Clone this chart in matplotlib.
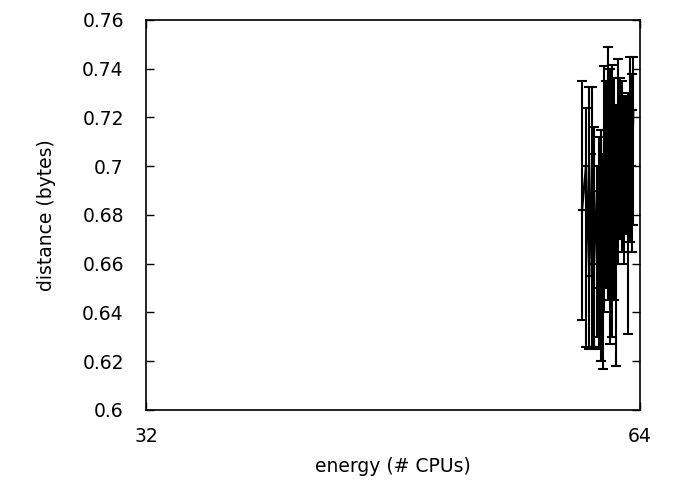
import matplotlib
matplotlib.use("Agg")
import matplotlib.pyplot as plt
import numpy as np

# energy (# CPUs), log2 axis
energy = [59.0, 59.33, 59.6, 59.84, 60.0, 60.25, 60.42, 60.6, 60.77, 60.86,
          61.03, 61.2, 61.37, 61.54, 61.71, 61.88, 62.05, 62.23, 62.4, 62.58,
          62.76, 62.94, 63.12, 63.3, 63.4]
distance = [0.682, 0.700, 0.655, 0.705, 0.660, 0.690, 0.650, 0.695, 0.655,
            0.715, 0.665, 0.710, 0.660, 0.715, 0.670, 0.712, 0.685, 0.720,
            0.690, 0.715, 0.695, 0.680, 0.710, 0.700, 0.723]
dist_low = [0.637, 0.626, 0.625, 0.626, 0.626, 0.630, 0.625, 0.620, 0.617,
            0.640, 0.650, 0.645, 0.627, 0.630, 0.645, 0.618, 0.660, 0.670,
            0.665, 0.660, 0.672, 0.631, 0.669, 0.665, 0.676]
dist_high = [0.735, 0.724, 0.7325, 0.7325, 0.716, 0.700, 0.712, 0.715, 0.705,
             0.741, 0.735, 0.749, 0.740, 0.7415, 0.736, 0.725, 0.744, 0.736,
             0.735, 0.729, 0.728, 0.730, 0.745, 0.738, 0.745]

d = np.array(distance)
yerr = [d - np.array(dist_low), np.array(dist_high) - d]

plt.rcParams['font.family'] = ['DejaVu Sans']
fig = plt.figure(figsize=(6.88, 4.90), dpi=100)
ax = fig.add_axes([146/688, 1-410/490, (640-146)/688, (410-20)/490])

ax.errorbar(energy, distance, yerr=yerr, color='black', lw=1.6, elinewidth=1.5,
            capsize=3.5, capthick=1.5, marker='+', ms=6, mew=1.5)

ax.set_xscale('log', base=2)
ax.set_xlim(32, 64)
ax.set_ylim(0.6, 0.76)
ax.set_xticks([32, 64])
ax.set_xticklabels(['32', '64'])
ax.xaxis.set_minor_locator(matplotlib.ticker.NullLocator())
yt = [0.6, 0.62, 0.64, 0.66, 0.68, 0.7, 0.72, 0.74, 0.76]
ax.set_yticks(yt)
ax.set_yticklabels(['0.6', '0.62', '0.64', '0.66', '0.68', '0.7', '0.72', '0.74', '0.76'])
ax.tick_params(direction='in', length=6, width=1, labelsize=13.5, pad=16,
               right=True, top=True, colors='black')
ax.tick_params(axis='x', pad=12)
for s in ax.spines.values():
    s.set_linewidth(1.2)
ax.set_xlabel('energy (# CPUs)', fontsize=13.5, labelpad=8)
ax.set_ylabel('distance (bytes)', fontsize=13.5, labelpad=19)

fig.savefig('out.png', dpi=100)
